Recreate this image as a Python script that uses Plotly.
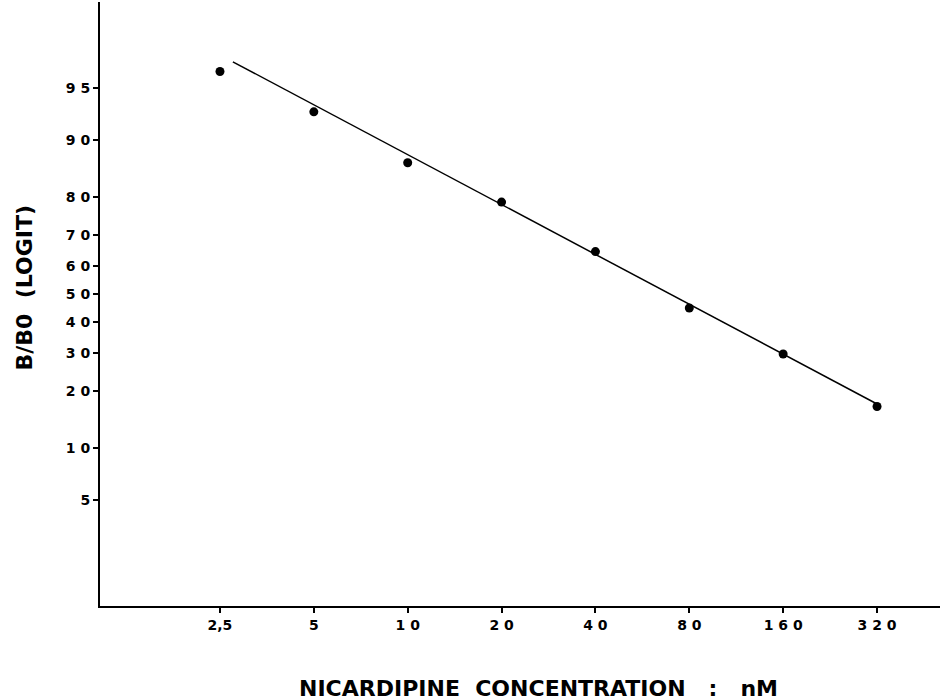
import numpy as np
import plotly.graph_objects as go

# Data
concentration_nM = [2.5, 5, 10, 20, 40, 80, 160, 320]
b_over_b0_pct = [96.0, 93.1, 86.7, 78.8, 64.7, 45.0, 29.8, 16.7]

# fitted line end points (concentration, percent)
fit_conc = [2.75, 320]
fit_pct = [96.5, 17.2]

x_tick_vals = [2.5, 5, 10, 20, 40, 80, 160, 320]
x_tick_text = ["2,5", "5", "1 0", "2 0", "4 0", "8 0", "1 6 0", "3 2 0"]
y_tick_pcts = [5, 10, 20, 30, 40, 50, 60, 70, 80, 90, 95]
y_tick_text = ["5", "1 0", "2 0", "3 0", "4 0", "5 0", "6 0", "7 0", "8 0", "9 0", "9 5"]


def logit(p):
    p = np.asarray(p, dtype=float) / 100.0
    return np.log(p / (1 - p))


FONT = "DejaVu Sans, Arial, sans-serif"

fig = go.Figure()
fig.add_trace(go.Scatter(
    x=fit_conc, y=logit(fit_pct), mode="lines",
    line=dict(color="black", width=1.5), showlegend=False, hoverinfo="skip"))
fig.add_trace(go.Scatter(
    x=concentration_nM, y=logit(b_over_b0_pct), mode="markers",
    marker=dict(color="black", size=9), showlegend=False))

fig.update_xaxes(
    type="log", range=[0.0132, 2.7071],
    tickvals=x_tick_vals, ticktext=x_tick_text,
    showline=True, linecolor="black", linewidth=2,
    ticks="outside", ticklen=5, tickwidth=1.5, tickcolor="black",
    showgrid=False, zeroline=False,
    tickfont=dict(family=FONT, size=14, color="black", weight="bold"),
)
fig.update_yaxes(
    range=[-4.457, 4.171],
    tickvals=list(logit(y_tick_pcts)), ticktext=y_tick_text,
    showline=True, linecolor="black", linewidth=2,
    ticks="outside", ticklen=5, tickwidth=1.5, tickcolor="black",
    showgrid=False, zeroline=False,
    tickfont=dict(family=FONT, size=14, color="black", weight="bold"),
)

fig.add_annotation(
    text="B/B0  (LOGIT)", textangle=-90, xref="paper", yref="paper",
    x=-0.09, y=0.528, xanchor="center", yanchor="middle", showarrow=False,
    font=dict(family=FONT, size=22, color="black", weight="bold"))
fig.add_annotation(
    text="NICARDIPINE  CONCENTRATION   :   nM", xref="paper", yref="paper",
    x=0.5226, y=-0.1358, xanchor="center", yanchor="middle", showarrow=False,
    font=dict(family=FONT, size=22, color="black", weight="bold"))

fig.update_layout(
    width=940, height=700,
    margin=dict(l=100, r=0, t=2, b=94),
    paper_bgcolor="white", plot_bgcolor="white",
    showlegend=False,
)

fig.write_html("out.html", config={"displayModeBar": False},
               post_script="document.body.style.margin='0px';")
